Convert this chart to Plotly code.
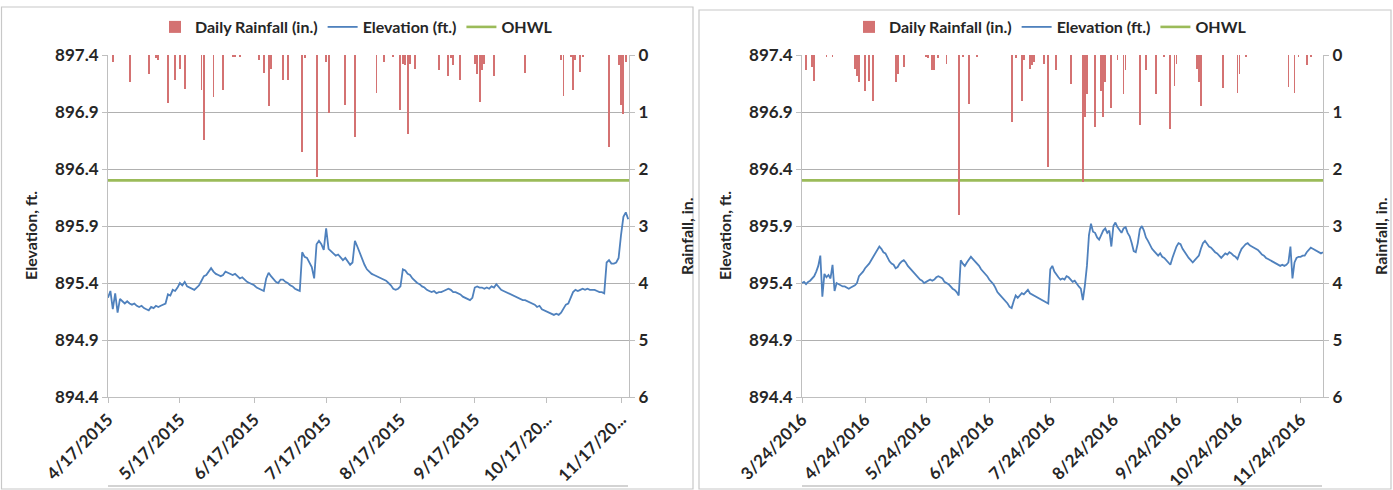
import pandas as pd
import plotly.graph_objects as go

# ---------------- 2015 season ----------------
rain15_dates = [
    "2015-04-19", "2015-04-26", "2015-05-04", "2015-05-07", "2015-05-08", "2015-05-12",
    "2015-05-15", "2015-05-17", "2015-05-19", "2015-05-26", "2015-05-27", "2015-05-31",
    "2015-06-04", "2015-06-08", "2015-06-09", "2015-06-11", "2015-06-19", "2015-06-21",
    "2015-06-23", "2015-06-24", "2015-06-29", "2015-07-01", "2015-07-07", "2015-07-08",
    "2015-07-13", "2015-07-17", "2015-07-18", "2015-07-25", "2015-07-29", "2015-08-07",
    "2015-08-10", "2015-08-14", "2015-08-17", "2015-08-18", "2015-08-19", "2015-08-20",
    "2015-08-21", "2015-08-23", "2015-09-02", "2015-09-06", "2015-09-07", "2015-09-08",
    "2015-09-11", "2015-09-17", "2015-09-18", "2015-09-19", "2015-09-20", "2015-09-21",
    "2015-09-25", "2015-10-08", "2015-10-23", "2015-10-24", "2015-10-27", "2015-10-28",
    "2015-10-29", "2015-10-31", "2015-11-01", "2015-11-12", "2015-11-16", "2015-11-17",
    "2015-11-18", "2015-11-19",
]
rain15_in = [
    0.12, 0.47, 0.34, 0.06, 0.08, 0.85,
    0.44, 0.24, 0.59, 0.61, 1.49, 0.74,
    0.61, 0.04, 0.04, 0.04, 0.08, 0.32,
    0.90, 0.24, 0.43, 0.43, 1.71, 0.06,
    2.14, 0.12, 1.01, 0.88, 1.43, 0.66,
    0.12, 0.03, 0.97, 0.15, 0.18, 1.38,
    0.15, 0.25, 0.26, 0.37, 0.06, 0.18,
    0.44, 0.15, 0.34, 0.82, 0.26, 0.15,
    0.37, 0.32, 0.09, 0.72, 0.03, 0.61,
    0.09, 0.29, 0.03, 1.61, 0.18, 0.88,
    1.03, 0.12,
]
elev15_start = "2015-04-17"
elev15_ft = [
    895.27, 895.33, 895.17, 895.31, 895.14, 895.26, 895.24, 895.22, 895.24, 895.22,
    895.21, 895.22, 895.20, 895.19, 895.20, 895.18, 895.17, 895.16, 895.19, 895.18,
    895.20, 895.19, 895.20, 895.21, 895.22, 895.30, 895.29, 895.34, 895.33, 895.36,
    895.40, 895.38, 895.41, 895.37, 895.36, 895.35, 895.34, 895.36, 895.38, 895.42,
    895.46, 895.47, 895.50, 895.53, 895.50, 895.48, 895.47, 895.46, 895.47, 895.50,
    895.49, 895.48, 895.47, 895.48, 895.46, 895.44, 895.45, 895.43, 895.41, 895.40,
    895.39, 895.38, 895.36, 895.35, 895.34, 895.33, 895.44, 895.49, 895.46, 895.43,
    895.41, 895.40, 895.43, 895.43, 895.41, 895.40, 895.38, 895.37, 895.35, 895.34,
    895.33, 895.67, 895.63, 895.62, 895.58, 895.54, 895.44, 895.74, 895.77, 895.74,
    895.69, 895.88, 895.70, 895.68, 895.66, 895.64, 895.65, 895.62, 895.60, 895.62,
    895.59, 895.56, 895.58, 895.77, 895.72, 895.66, 895.60, 895.56, 895.52, 895.50,
    895.48, 895.47, 895.46, 895.45, 895.44, 895.43, 895.42, 895.40, 895.38, 895.35,
    895.34, 895.35, 895.37, 895.52, 895.51, 895.48, 895.47, 895.44, 895.42, 895.40,
    895.39, 895.37, 895.36, 895.34, 895.33, 895.32, 895.33, 895.31, 895.32, 895.32,
    895.33, 895.34, 895.35, 895.34, 895.32, 895.32, 895.31, 895.30, 895.28, 895.27,
    895.26, 895.25, 895.27, 895.36, 895.37, 895.36, 895.36, 895.35, 895.36, 895.35,
    895.37, 895.36, 895.39, 895.36, 895.34, 895.33, 895.32, 895.31, 895.30, 895.29,
    895.28, 895.27, 895.26, 895.25, 895.25, 895.24, 895.23, 895.22, 895.21, 895.19,
    895.20, 895.17, 895.16, 895.15, 895.14, 895.13, 895.12, 895.13, 895.12, 895.14,
    895.17, 895.21, 895.22, 895.27, 895.32, 895.34, 895.33, 895.34, 895.35, 895.34,
    895.35, 895.34, 895.34, 895.34, 895.33, 895.32, 895.32, 895.31, 895.58, 895.60,
    895.57, 895.57, 895.58, 895.62, 895.82, 895.98, 896.02, 895.96,
]
ticks15 = ["2015-04-17", "2015-05-17", "2015-06-17", "2015-07-17",
           "2015-08-17", "2015-09-17", "2015-10-17", "2015-11-17"]
ticks15_text = ["4/17/2015", "5/17/2015", "6/17/2015", "7/17/2015",
                "8/17/2015", "9/17/2015", "10/17/20...", "11/17/20..."]
span15 = ["2015-04-17", "2015-11-20 08:00"]

# ---------------- 2016 season ----------------
rain16_dates = [
    "2016-03-26", "2016-03-29", "2016-03-30", "2016-04-05", "2016-04-08", "2016-04-19",
    "2016-04-20", "2016-04-21", "2016-04-24", "2016-04-26", "2016-04-28", "2016-05-09",
    "2016-05-10", "2016-05-13", "2016-05-24", "2016-05-25", "2016-05-27", "2016-05-28",
    "2016-05-30", "2016-06-03", "2016-06-09", "2016-06-11", "2016-06-14", "2016-06-18",
    "2016-07-05", "2016-07-07", "2016-07-10", "2016-07-11", "2016-07-14", "2016-07-15",
    "2016-07-16", "2016-07-21", "2016-07-23", "2016-07-27", "2016-08-03", "2016-08-09",
    "2016-08-10", "2016-08-11", "2016-08-15", "2016-08-18", "2016-08-19", "2016-08-20",
    "2016-08-23", "2016-08-26", "2016-08-29", "2016-08-30", "2016-09-06", "2016-09-09",
    "2016-09-14", "2016-09-18", "2016-09-21", "2016-09-23", "2016-09-24", "2016-10-04",
    "2016-10-05", "2016-10-06", "2016-10-17", "2016-10-24", "2016-10-25", "2016-10-28",
    "2016-11-18", "2016-11-21", "2016-11-23", "2016-11-27", "2016-11-29",
]
rain16_in = [
    0.27, 0.21, 0.45, 0.03, 0.03, 0.24,
    0.36, 0.48, 0.63, 0.45, 0.81, 0.48,
    0.33, 0.21, 0.03, 0.06, 0.27, 0.27,
    0.06, 0.15, 2.81, 0.03, 0.86, 0.03,
    1.18, 0.06, 0.81, 0.09, 0.24, 0.18,
    0.12, 0.15, 1.96, 0.27, 0.51, 2.22,
    1.08, 0.69, 1.26, 0.63, 1.08, 0.48,
    0.93, 0.09, 0.68, 0.27, 1.23, 0.27,
    0.69, 0.03, 1.29, 0.54, 0.15, 0.24,
    0.48, 0.90, 0.58, 0.66, 0.33, 0.03,
    0.56, 0.66, 0.03, 0.18, 0.03,
]
elev16_start = "2016-03-24"
elev16_ft = [
    895.40, 895.41, 895.39, 895.41, 895.42, 895.44, 895.46, 895.50, 895.55, 895.64,
    895.28, 895.48, 895.45, 895.47, 895.44, 895.56, 895.33, 895.40, 895.39, 895.38,
    895.37, 895.37, 895.36, 895.35, 895.36, 895.37, 895.38, 895.40, 895.46, 895.48,
    895.50, 895.53, 895.55, 895.57, 895.60, 895.63, 895.65, 895.69, 895.72, 895.70,
    895.67, 895.66, 895.62, 895.59, 895.57, 895.56, 895.53, 895.54, 895.57, 895.59,
    895.60, 895.58, 895.55, 895.53, 895.51, 895.49, 895.47, 895.45, 895.43, 895.42,
    895.40, 895.41, 895.42, 895.43, 895.42, 895.43, 895.45, 895.46, 895.45, 895.44,
    895.41, 895.40, 895.39, 895.37, 895.35, 895.34, 895.32, 895.29, 895.60, 895.57,
    895.55, 895.58, 895.61, 895.63, 895.61, 895.59, 895.57, 895.55, 895.52, 895.50,
    895.48, 895.46, 895.43, 895.41, 895.39, 895.36, 895.32, 895.30, 895.28, 895.26,
    895.24, 895.22, 895.19, 895.18, 895.24, 895.29, 895.27, 895.29, 895.31, 895.30,
    895.32, 895.34, 895.31, 895.30, 895.29, 895.28, 895.27, 895.26, 895.25, 895.24,
    895.23, 895.22, 895.52, 895.55, 895.50, 895.47, 895.45, 895.43, 895.44, 895.43,
    895.46, 895.45, 895.43, 895.41, 895.42, 895.39, 895.37, 895.35, 895.25, 895.38,
    895.55, 895.82, 895.92, 895.85, 895.84, 895.80, 895.78, 895.82, 895.86, 895.88,
    895.84, 895.86, 895.72, 895.90, 895.93, 895.89, 895.86, 895.84, 895.88, 895.89,
    895.84, 895.81, 895.75, 895.68, 895.67, 895.75, 895.87, 895.90, 895.86, 895.80,
    895.77, 895.73, 895.70, 895.68, 895.66, 895.64, 895.66, 895.63, 895.62, 895.60,
    895.58, 895.56, 895.62, 895.68, 895.72, 895.75, 895.74, 895.70, 895.67, 895.64,
    895.62, 895.60, 895.58, 895.60, 895.62, 895.64, 895.70, 895.75, 895.77, 895.74,
    895.72, 895.71, 895.69, 895.67, 895.66, 895.64, 895.62, 895.64, 895.66, 895.65,
    895.67, 895.66, 895.64, 895.63, 895.61, 895.66, 895.70, 895.72, 895.74, 895.75,
    895.73, 895.72, 895.71, 895.70, 895.69, 895.67, 895.65, 895.64, 895.62, 895.61,
    895.60, 895.59, 895.58, 895.57, 895.56, 895.55, 895.56, 895.55, 895.56, 895.58,
    895.72, 895.44, 895.58, 895.62, 895.63, 895.63, 895.64, 895.64, 895.67, 895.69,
    895.71, 895.70, 895.69, 895.68, 895.67, 895.66, 895.67,
]
ticks16 = ["2016-03-24", "2016-04-24", "2016-05-24", "2016-06-24", "2016-07-24",
           "2016-08-24", "2016-09-24", "2016-10-24", "2016-11-24"]
ticks16_text = ["3/24/2016", "4/24/2016", "5/24/2016", "6/24/2016", "7/24/2016",
                "8/24/2016", "9/24/2016", "10/24/2016", "11/24/2016"]
span16 = ["2016-03-24", "2016-12-05"]

OHWL_FT = 896.3
ELEV_RANGE = [894.4, 897.4]
RAIN_RANGE = [6, 0]

# ---------------- styling ----------------
W, H = 1393, 490
FONT = "Lato"
TXT = "#262626"
RAIN_C = "#d47272"
LEG_RAIN_C = "#c0504d"
ELEV_C = "#4f81bd"
OHWL_C = "#9bbb59"
GRID_C = "#b0b0b0"
AXIS_C = "#bfbfbf"
DAY_MS = 86400000

panels = [
    dict(rd=rain15_dates, rv=rain15_in, es=elev15_start, ev=elev15_ft,
         tv=ticks15, tt=ticks15_text, span=span15, px=(108, 629)),
    dict(rd=rain16_dates, rv=rain16_in, es=elev16_start, ev=elev16_ft,
         tv=ticks16, tt=ticks16_text, span=span16, px=(802, 1323)),
]
PLOT_TOP, PLOT_BOT = 55, 397

fig = go.Figure()
layout = {}
annotations = []
shapes = []

for i, p in enumerate(panels):
    xa = "x" if i == 0 else "x2"
    ya_e = "y" if i == 0 else "y3"
    ya_r = "y2" if i == 0 else "y4"
    leg = "legend" if i == 0 else "legend2"
    elev_x = pd.date_range(p["es"], periods=len(p["ev"]), freq="D")

    fig.add_trace(go.Scatter(
        x=elev_x, y=p["ev"], mode="lines", name="Elevation (ft.)",
        line=dict(color=ELEV_C, width=1.8), xaxis=xa, yaxis=ya_e,
        legend=leg, legendrank=2))
    fig.add_trace(go.Scatter(
        x=p["span"], y=[OHWL_FT, OHWL_FT], mode="lines", name="OHWL",
        line=dict(color=OHWL_C, width=2.6), xaxis=xa, yaxis=ya_e,
        legend=leg, legendrank=3))
    fig.add_trace(go.Bar(
        x=pd.to_datetime(p["rd"]), y=p["rv"], name="Daily Rainfall (in.)",
        marker=dict(color=RAIN_C, line=dict(width=0)),
        width=0.4 * DAY_MS, xaxis=xa, yaxis=ya_r,
        legend=leg, legendrank=1))

    dom = [p["px"][0] / W, p["px"][1] / W]
    ydom = [1 - PLOT_BOT / H, 1 - PLOT_TOP / H]
    xkey = "xaxis" if i == 0 else "xaxis2"
    ekey = "yaxis" if i == 0 else "yaxis3"
    rkey = "yaxis2" if i == 0 else "yaxis4"

    layout[xkey] = dict(
        domain=dom, anchor=ya_e, type="date", range=p["span"], automargin=False,
        tickmode="array", tickvals=p["tv"], ticktext=p["tt"], tickangle=-45,
        ticks="outside", ticklen=5, tickcolor=AXIS_C,
        showline=True, linecolor=AXIS_C, linewidth=1, showgrid=False,
        tickfont=dict(family=FONT, size=17, color=TXT, weight="bold"))
    layout[ekey] = dict(
        domain=ydom, anchor=xa, range=ELEV_RANGE, tick0=894.4, dtick=0.5,
        automargin=False,
        tickformat=".1f", ticks="outside", ticklen=5, tickcolor=AXIS_C,
        showline=True, linecolor=AXIS_C, linewidth=1,
        showgrid=True, gridcolor=GRID_C, gridwidth=1.3, zeroline=False,
        tickfont=dict(family=FONT, size=17, color=TXT, weight="bold"))
    layout[rkey] = dict(
        overlaying=ya_e, side="right", anchor=xa, range=RAIN_RANGE,
        automargin=False,
        dtick=1, ticks="outside", ticklen=5, tickcolor=AXIS_C,
        showline=True, linecolor=AXIS_C, linewidth=1, showgrid=False,
        zeroline=False,
        tickfont=dict(family=FONT, size=17, color=TXT, weight="bold"))

    cx = (p["px"][0] + p["px"][1]) / 2
    layout[leg] = dict(
        orientation="h", x=(cx - 12) / W, xanchor="center", y=1 - 27 / H,
        yanchor="middle", bgcolor="rgba(0,0,0,0)", traceorder="normal",
        font=dict(family=FONT, size=16, color=TXT, weight="bold"),
        itemwidth=30, tracegroupgap=0)

    # axis titles
    annotations.append(dict(
        text="Elevation, ft.", x=(p["px"][0] - 78) / W, y=1 - 236 / H,
        xref="paper", yref="paper", textangle=-90, showarrow=False,
        xanchor="center", yanchor="middle",
        font=dict(family=FONT, size=16, color=TXT, weight="bold")))
    annotations.append(dict(
        text="Rainfall, in.", x=(p["px"][1] + 57) / W, y=1 - 236 / H,
        xref="paper", yref="paper", textangle=-90, showarrow=False,
        xanchor="center", yanchor="middle",
        font=dict(family=FONT, size=16, color=TXT, weight="bold")))

    # rule under the date labels
    shapes.append(dict(
        type="line", xref="paper", yref="paper",
        x0=p["px"][0] / W, x1=(p["px"][1] - 1) / W,
        y0=1 - 486 / H, y1=1 - 486 / H,
        line=dict(color="#c4c4c4", width=1.5)))

# chart frames
shapes.append(dict(type="rect", xref="paper", yref="paper",
                   x0=1.5 / W, x1=693 / W, y0=1 - 489 / H, y1=1 - 7 / H,
                   line=dict(color="#c8c8c8", width=1.2)))
shapes.append(dict(type="rect", xref="paper", yref="paper",
                   x0=699 / W, x1=1391 / W, y0=1 - 489 / H, y1=1 - 10 / H,
                   line=dict(color="#c8c8c8", width=1.2)))

fig.update_layout(
    width=W, height=H, margin=dict(l=0, r=0, t=0, b=0, autoexpand=False),
    paper_bgcolor="white", plot_bgcolor="white",
    font=dict(family=FONT, color=TXT),
    bargap=0, barmode="overlay", showlegend=True,
    annotations=annotations, shapes=shapes, **layout)

fig.write_html("out.html")
